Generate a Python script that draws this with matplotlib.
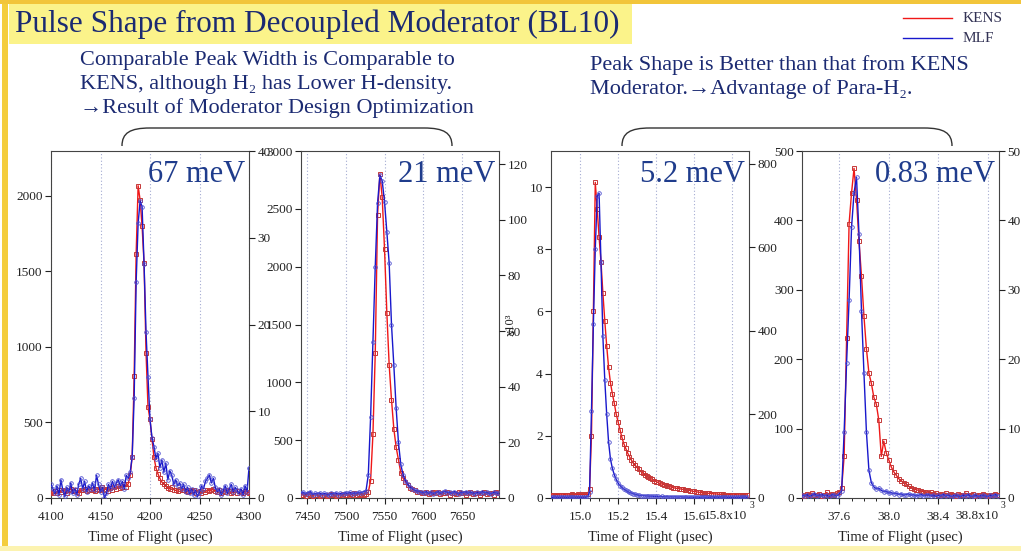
import matplotlib
matplotlib.use('Agg')
import matplotlib.pyplot as plt
import numpy as np
from matplotlib.patches import Rectangle, PathPatch
from matplotlib.path import Path
from matplotlib.lines import Line2D
from matplotlib.transforms import Affine2D
from matplotlib.ticker import AutoMinorLocator

# --- pulse data (counts vs. time of flight) ---
# 67 meV, t = 4100 + 2*k usec
kens_67 = [40, 30, 45, 35, 50, 40, 55, 45, 30, 50,
           60, 45, 55, 40, 35, 55, 50, 60, 45, 55,
           60, 50, 45, 60, 55, 60, 70, 55, 60, 45,
           65, 55, 70, 60, 80, 65, 70, 90, 75, 95,
           150, 274, 810, 1616, 2068, 1974, 1800, 1554, 960, 600,
           520, 390, 270, 200, 160, 130, 105, 95, 80, 65,
           60, 70, 55, 50, 45, 60, 50, 55, 45, 40,
           55, 45, 50, 35, 40, 45, 35, 50, 40, 55,
           45, 50, 60, 45, 40, 50, 35, 45, 40, 50,
           45, 35, 40, 50, 35, 45, 40, 30, 45, 40,
           35]
mlf_67 = [90, 60, 30, 80, 20, 120, 50, 10, 70, 40,
          100, 30, 60, 20, 90, 130, 60, 110, 40, 80,
          60, 100, 50, 150, 90, 40, 70, 0, 30, 90,
          60, 110, 70, 100, 120, 80, 110, 60, 150, 130,
          170, 274, 664, 1428, 1819, 1967, 1930, 1550, 1097, 800,
          520, 400, 340, 260, 295, 200, 252, 170, 230, 120,
          180, 150, 90, 120, 80, 100, 60, 90, 40, 70,
          30, 60, 20, 50, 10, 40, 80, 60, 110, 130,
          152, 100, 130, 70, 40, 60, 20, 50, 80, 30,
          60, 90, 40, 70, 50, 30, 60, 20, 80, 40,
          200]

# 21 meV, t = 7442 + 3*k usec
kens_21 = [25, 30, 20, 35, 25, 20, 30, 25, 15, 30, 25, 20, 30, 35, 25, 20, 30, 25, 35, 30,
           25, 35, 30, 40, 30, 35, 25, 30,
           35, 50, 150, 550, 1250, 2450, 2800, 2600, 2150, 1600, 1150, 850, 600, 440,
           330, 220, 170, 140, 115, 90, 75, 65, 55, 50,
           45, 40, 50, 35, 45, 55, 40, 50, 35, 45, 40, 50, 30, 45, 40, 35, 50, 40, 45, 30,
           40, 50, 35, 45, 40, 30, 45, 50, 35, 40, 45, 30, 55, 40]
mlf_21 = [40, 50, 35, 45, 55, 30, 40, 35, 45, 30, 40, 35, 25, 40, 35, 45, 30, 40, 35, 45,
          40, 50, 35, 45, 40, 50, 45, 55,
          60, 200, 700, 1350, 2000, 2550, 2790, 2740, 2560, 2300, 2030, 1500, 1150, 780,
          480, 290, 200, 150, 120, 95, 80, 70, 60, 55,
          50, 45, 55, 40, 50, 35, 45, 55, 40, 50, 60, 45, 50, 40, 55, 45, 35, 50, 45, 55,
          40, 50, 45, 35, 50, 40, 55, 45, 50, 40, 35, 50, 45, 40]

# 5.2 meV, t = 14.85 + 0.01*k (x10^3 usec), counts x10^3
kens_52 = [0.10, 0.10, 0.10, 0.11, 0.10, 0.10, 0.10, 0.11, 0.10, 0.10,
           0.10, 0.12, 0.11, 0.10, 0.12, 0.11, 0.12, 0.11, 0.12, 0.12,
           0.30, 2.0, 6.0, 10.15, 9.3, 8.4, 7.6, 6.6, 5.7, 4.9,
           4.2, 3.7, 3.35, 3.05, 2.7, 2.45, 2.2, 1.95, 1.75, 1.6,
           1.45, 1.33, 1.22, 1.12, 1.05, 0.98, 0.92, 0.85, 0.80, 0.75,
           0.70, 0.67, 0.63, 0.60, 0.56, 0.53, 0.50, 0.47, 0.45, 0.43,
           0.41, 0.39, 0.37, 0.35, 0.33, 0.32, 0.31, 0.30, 0.29, 0.28,
           0.27, 0.26, 0.25, 0.24, 0.22, 0.21, 0.20, 0.19, 0.18, 0.17,
           0.17, 0.16, 0.15, 0.15, 0.14, 0.14, 0.13, 0.13, 0.12, 0.12,
           0.12, 0.11, 0.11, 0.10, 0.11, 0.10, 0.10, 0.11, 0.10, 0.10,
           0.10, 0.11, 0.10, 0.10]
mlf_52 = [0.03, 0.02, 0.03, 0.03, 0.02, 0.03, 0.04, 0.03, 0.02, 0.03,
          0.03, 0.02, 0.03, 0.04, 0.03, 0.03, 0.02, 0.03, 0.03, 0.04,
          0.20, 2.8, 5.6, 8.0, 9.7, 9.8, 7.6, 5.2, 3.8, 2.7,
          1.8, 1.25, 0.95, 0.75, 0.60, 0.48, 0.40, 0.34, 0.29, 0.25,
          0.21, 0.18, 0.16, 0.14, 0.12, 0.10, 0.09, 0.08, 0.08, 0.07,
          0.07, 0.06, 0.06, 0.06, 0.05, 0.05, 0.05, 0.04, 0.05, 0.04,
          0.04, 0.04, 0.03, 0.04, 0.03, 0.04, 0.03, 0.03, 0.04, 0.03,
          0.03, 0.03, 0.02, 0.03, 0.03, 0.02, 0.03, 0.03, 0.02, 0.03,
          0.03, 0.02, 0.03, 0.02, 0.03, 0.03, 0.02, 0.03, 0.02, 0.03,
          0.02, 0.03, 0.03, 0.02, 0.03, 0.02, 0.03, 0.02, 0.03, 0.02,
          0.03, 0.02, 0.03, 0.02]

# 0.83 meV, t = 37.30 + 0.02*k (x10^3 usec)
kens_083 = [5, 3, 6, 4, 7, 5, 4, 6, 3, 5, 8, 4, 6, 5, 7, 9,
            14, 60, 230, 395, 440, 475, 430, 370, 320, 262,
            215, 180, 165, 145, 135, 112, 60, 82, 65, 55,
            45, 38, 33, 28, 25, 22, 20, 17, 15, 13,
            12, 11, 10, 9, 8, 7, 8, 6, 7, 5,
            6, 5, 7, 4, 6, 5, 3, 6, 4, 5, 7, 4, 5, 6, 3, 5, 4, 6, 5, 3, 5, 4, 6, 5]
mlf_083 = [4, 3, 5, 2, 4, 6, 3, 4, 5, 3, 4, 2, 5, 4, 3, 6,
           10, 95, 195, 285, 390, 440, 462, 380, 270, 180,
           95, 40, 22, 16, 13, 14, 11, 9, 10, 7,
           8, 6, 7, 5, 6, 4, 5, 6, 4, 5, 3, 4, 5, 3, 4, 5, 3, 4, 2, 4,
           3, 5, 3, 4, 2, 3, 4, 3, 2, 4, 3, 5, 2, 3, 4, 2, 3, 4, 3, 2,
           4, 3, 5, 3]

energies = ['67 meV', '21 meV', '5.2 meV', '0.83 meV']

W, H = 1021, 551
plt.rcParams['font.family'] = ['Liberation Serif', 'DejaVu Serif']

NAVY = '#1b2a72'
RED = '#f01818'
BLUE = '#1818cc'
INK = '#222222'

fig = plt.figure(figsize=(W / 100, H / 100), dpi=100)
fig.patch.set_facecolor('white')
PX = Affine2D().scale(1 / W, -1 / H).translate(0, 1) + fig.transFigure

# slide frame and title bar
fig.add_artist(Rectangle((2, 0), 6, H, transform=PX, color='#f4cd3c', lw=0))
fig.add_artist(Rectangle((0, 0), W, 4, transform=PX, color='#f2c53a', lw=0))
fig.add_artist(Rectangle((0, 546), W, 5, transform=PX, color='#fcf3b0', lw=0))
fig.add_artist(Rectangle((9, 4), 623, 40, transform=PX, color='#fbf38a', lw=0))

fig.text(15, 24, 'Pulse Shape from Decoupled Moderator (BL10)', transform=PX,
         fontsize=22.5, color=NAVY, va='center', ha='left')

SUB = 16
fig.text(80, 61, 'Comparable Peak Width is Comparable to', transform=PX,
         fontsize=SUB, color=NAVY, va='center')
fig.text(80, 84, 'KENS, although H\u2082 has Lower H-density.', transform=PX,
         fontsize=SUB, color=NAVY, va='center')
fig.text(80, 108, '\u2192Result of Moderator Design Optimization', transform=PX,
         fontsize=SUB, color=NAVY, va='center')
fig.text(590, 65, 'Peak Shape is Better than that from KENS', transform=PX,
         fontsize=SUB, color=NAVY, va='center')
fig.text(590, 89, 'Moderator.\u2192Advantage of Para-H\u2082.', transform=PX,
         fontsize=SUB, color=NAVY, va='center')

# legend in the corner
for y, c, lab in [(18, RED, 'KENS'), (38, BLUE, 'MLF')]:
    fig.add_artist(Line2D([903, 952], [y, y], transform=PX, color=c, lw=1))
    fig.text(963, y, lab, transform=PX, fontsize=11, color='#333355', va='center')


def brace(x0, x1, top, bot):
    verts = [(x0, bot), (x0, top + 5), (x0 + 8, top), (x0 + 28, top),
             (x1 - 28, top), (x1 - 8, top), (x1, top + 5), (x1, bot)]
    codes = [Path.MOVETO, Path.CURVE4, Path.CURVE4, Path.CURVE4,
             Path.LINETO, Path.CURVE4, Path.CURVE4, Path.CURVE4]
    fig.add_artist(PathPatch(Path(verts, codes), transform=PX, fill=False,
                             ec='#333333', lw=1))


brace(122, 452, 128, 146)
brace(622, 952, 128, 146)

TOP, BOT = 151, 498
panels = [
    dict(l=51, r=249, t=4100 + 2 * np.arange(len(kens_67)), k=kens_67, m=mlf_67,
         xlim=(4100, 4300), xt=[4100, 4150, 4200, 4250, 4300],
         xl=['4100', '4150', '4200', '4250', '4300'], minor=5,
         ylim=(0, 2298), yt=np.arange(0, 2001, 500), rlim=(0, 40), rt=np.arange(0, 41, 10)),
    dict(l=301, r=499, t=7442 + 3 * np.arange(len(kens_21)), k=kens_21, m=mlf_21,
         xlim=(7442, 7698), xt=[7450, 7500, 7550, 7600, 7650],
         xl=['7450', '7500', '7550', '7600', '7650'], minor=5,
         ylim=(0, 3000), yt=np.arange(0, 3001, 500), rlim=(0, 124.7), rt=np.arange(0, 121, 20)),
    dict(l=551, r=749, t=14.85 + 0.01 * np.arange(len(kens_52)), k=kens_52, m=mlf_52,
         xlim=(14.847, 15.889), xt=[15.0, 15.2, 15.4, 15.6, 15.8],
         xl=['15.0', '15.2', '15.4', '15.6', ''], minor=4,
         ylim=(0, 11.16), yt=np.arange(0, 11, 2), rlim=(0, 831), rt=np.arange(0, 801, 200)),
    dict(l=802, r=999, t=37.30 + 0.02 * np.arange(len(kens_083)), k=kens_083, m=mlf_083,
         xlim=(37.30, 38.89), xt=[37.6, 38.0, 38.4, 38.8],
         xl=['37.6', '38.0', '38.4', ''], minor=4,
         ylim=(0, 500), yt=np.arange(0, 501, 100), rlim=(0, 50), rt=np.arange(0, 51, 10)),
]

for p, energy in zip(panels, energies):
    ax = fig.add_axes([p['l'] / W, 1 - BOT / H, (p['r'] - p['l']) / W, (BOT - TOP) / H])
    ax.plot(p['t'], p['k'], color=RED, lw=1, marker='s', ms=2.8, mfc='none',
            mec='#c43838', mew=0.7, zorder=3)
    ax.plot(p['t'], p['m'], color=BLUE, lw=1, marker='o', ms=2.6, mfc='none',
            mec='#5050d0', mew=0.6, zorder=4)
    ax.set_xlim(p['xlim'])
    ax.set_ylim(p['ylim'])
    ax.set_xticks(p['xt'])
    ax.set_xticklabels(p['xl'])
    ax.set_yticks(p['yt'])
    ax.xaxis.set_minor_locator(AutoMinorLocator(p['minor']))
    ax.grid(axis='x', color='#a4abd2', linestyle=(0, (1, 2)), lw=0.8)
    ax.tick_params(direction='out', length=4, width=0.8, labelsize=9.5, pad=2,
                   colors=INK)
    ax.tick_params(axis='x', pad=5)
    ax.tick_params(which='minor', direction='out', length=2.5, width=0.6)
    for s in ax.spines.values():
        s.set_color('#444444')
        s.set_linewidth(0.8)
    ax.text(0.982, 0.931, energy, transform=ax.transAxes, ha='right', va='center',
            fontsize=22, color='#1f3c8c', zorder=5)

    ax2 = ax.twinx()
    ax2.set_ylim(p['rlim'])
    ax2.set_yticks(p['rt'])
    ax2.tick_params(direction='out', length=4, width=0.8, labelsize=9.5, pad=2,
                    colors=INK)
    for s in ax2.spines.values():
        s.set_visible(False)

    fig.text((p['l'] + p['r']) / 2, 537, 'Time of Flight (\u00b5sec)', transform=PX,
             fontsize=10.5, ha='center', va='center', color=INK)

# last tick labels carry the x10^3 multiplier
fig.text(747, 516, '15.8x10', transform=PX, fontsize=9.5, ha='right', va='center', color=INK)
fig.text(998, 516, '38.8x10', transform=PX, fontsize=9.5, ha='right', va='center', color=INK)
fig.text(750, 506, '3', transform=PX, fontsize=7, ha='left', va='center', color=INK)
fig.text(1001, 506, '3', transform=PX, fontsize=7, ha='left', va='center', color=INK)
fig.text(511, 325, 'x10\u00b3', transform=PX, fontsize=9, rotation=90,
         ha='center', va='center', color=INK)

fig.savefig('out.png', dpi=100, facecolor='white')
